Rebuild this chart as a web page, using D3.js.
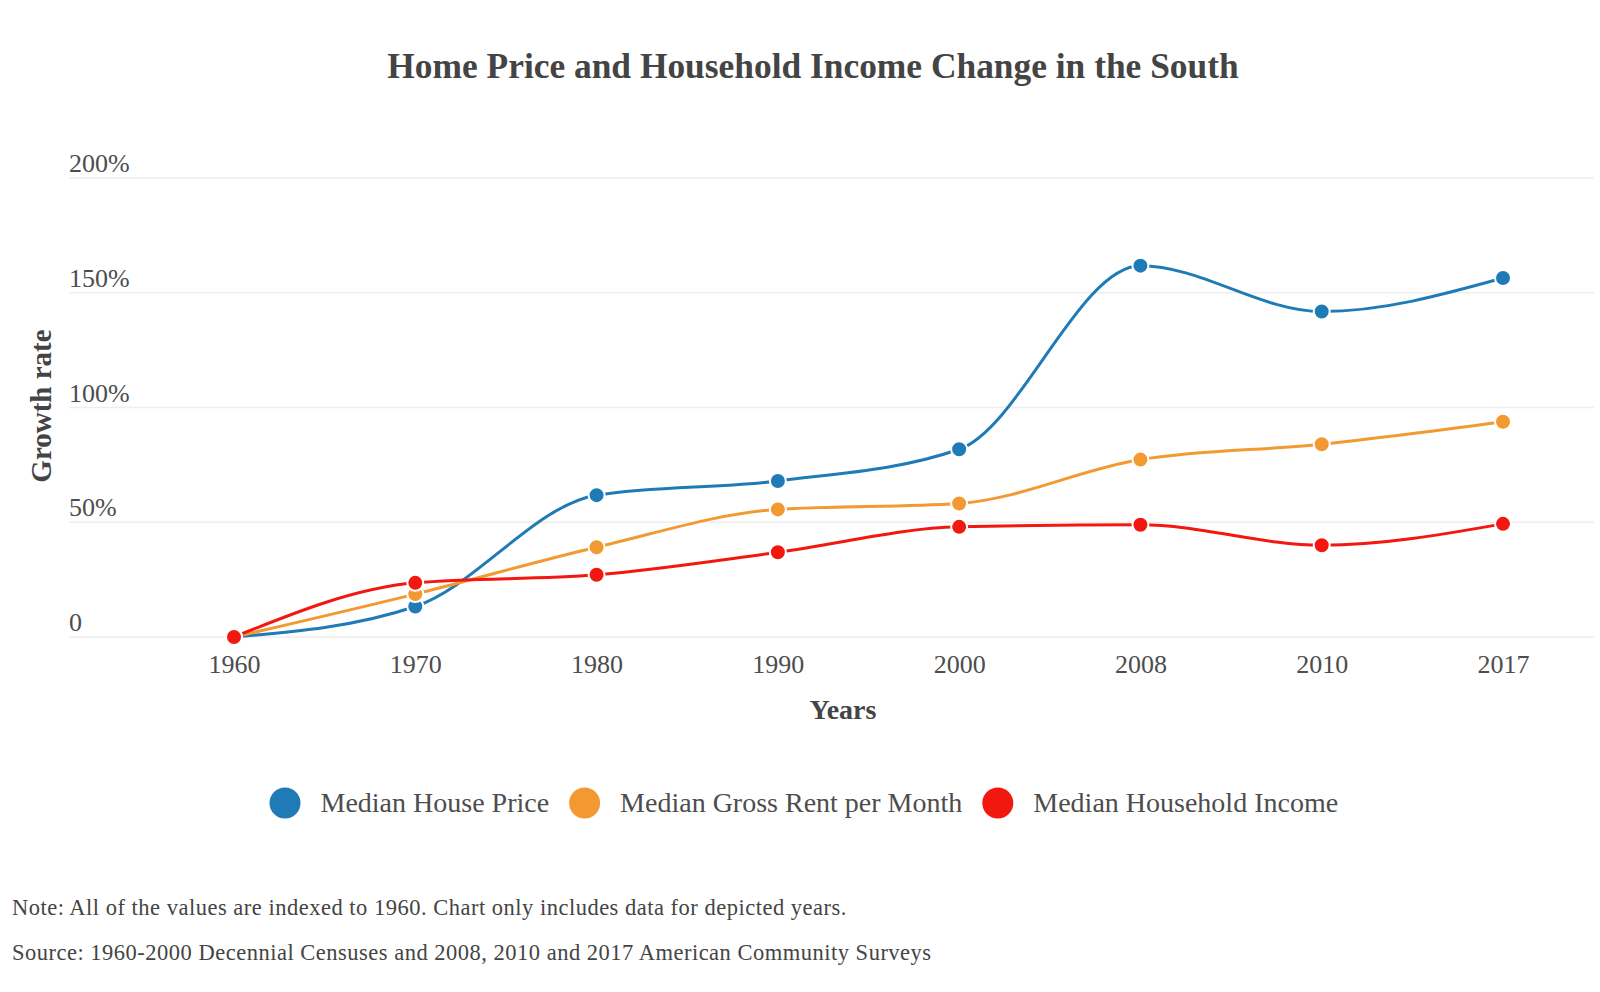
<!DOCTYPE html>
<html>
<head>
<meta charset="utf-8">
<script src="https://cdn.jsdelivr.net/npm/d3@7"></script>
<style>
  body { margin: 0; background: #fff; }
  svg { font-family: "Liberation Serif", serif; }
</style>
</head>
<body>
<svg id="chart" width="1600" height="992"></svg>
<script>
// data
var years = ["1960", "1970", "1980", "1990", "2000", "2008", "2010", "2017"];
var housePrice = [0, 13.3, 61.8, 68, 81.8, 161.8, 141.8, 156.4];
var grossRent = [0, 18.7, 39.1, 55.6, 58.2, 77.3, 84, 93.8];
var householdIncome = [0, 23.6, 27.1, 36.9, 48, 48.9, 40, 49.3];
var yTicks = [0, 50, 100, 150, 200];

var series = [
  {name: "Median House Price", color: "#1f7bb6", values: housePrice},
  {name: "Median Gross Rent per Month", color: "#f29a31", values: grossRent},
  {name: "Median Household Income", color: "#f2180f", values: householdIncome}
];

var svg = d3.select("#chart");

var x = d3.scalePoint().domain(years).range([234, 1503]);
var y = d3.scaleLinear().domain([0, 200]).range([637, 178]);

// title
svg.append("text")
  .attr("x", 813).attr("y", 78)
  .attr("text-anchor", "middle")
  .attr("font-size", 35.4).attr("font-weight", "bold")
  .attr("fill", "#444")
  .text("Home Price and Household Income Change in the South");

// grid + y labels
var grid = svg.append("g");
grid.selectAll("line").data(yTicks).enter().append("line")
  .attr("x1", 69).attr("x2", 1594)
  .attr("y1", function(d){ return y(d); })
  .attr("y2", function(d){ return y(d); })
  .attr("stroke", "#eee").attr("stroke-width", 1.5);
grid.selectAll("text").data(yTicks).enter().append("text")
  .attr("x", 69)
  .attr("y", function(d){ return y(d) - 6; })
  .attr("font-size", 26).attr("fill", "#4d4d4d")
  .text(function(d){ return d === 0 ? "0" : d + "%"; });

// x axis labels
var xAxis = d3.axisBottom(x).tickSize(0).tickPadding(18);
var xg = svg.append("g").attr("transform", "translate(0," + y(0) + ")").call(xAxis);
xg.select(".domain").remove();
xg.selectAll("text")
  .attr("font-family", "Liberation Serif, serif")
  .attr("font-size", 26).attr("fill", "#4d4d4d");

// axis titles
svg.append("text")
  .attr("x", 843).attr("y", 719)
  .attr("text-anchor", "middle")
  .attr("font-size", 28).attr("font-weight", "bold").attr("fill", "#444")
  .text("Years");
svg.append("text")
  .attr("transform", "translate(51,406) rotate(-90)")
  .attr("text-anchor", "middle")
  .attr("font-size", 29).attr("font-weight", "bold").attr("fill", "#444")
  .text("Growth rate");

// lines
var line = d3.line()
  .x(function(d, i){ return x(years[i]); })
  .y(function(d){ return y(d); })
  .curve(d3.curveMonotoneX);

series.forEach(function(s){
  svg.append("path")
    .datum(s.values)
    .attr("d", line)
    .attr("fill", "none")
    .attr("stroke", s.color)
    .attr("stroke-width", 3);
});

// markers
series.forEach(function(s){
  svg.append("g").selectAll("circle").data(s.values).enter().append("circle")
    .attr("cx", function(d, i){ return x(years[i]); })
    .attr("cy", function(d){ return y(d); })
    .attr("r", 8)
    .attr("fill", s.color)
    .attr("stroke", "#fff").attr("stroke-width", 2);
});

// legend
var legend = svg.append("g");
var lx = 285;
series.forEach(function(s){
  legend.append("circle")
    .attr("cx", lx).attr("cy", 803).attr("r", 15.5)
    .attr("fill", s.color);
  var t = legend.append("text")
    .attr("x", lx + 35.5).attr("y", 812)
    .attr("font-size", 28).attr("fill", "#4d4d4d")
    .text(s.name);
  lx += 35.5 + t.node().getComputedTextLength() + 35.5;
});

// notes
svg.append("text")
  .attr("x", 12).attr("y", 915)
  .attr("font-size", 22.5).attr("letter-spacing", 0.5).attr("fill", "#444")
  .text("Note: All of the values are indexed to 1960. Chart only includes data for depicted years.");
svg.append("text")
  .attr("x", 12).attr("y", 960)
  .attr("font-size", 22.5).attr("letter-spacing", 0.5).attr("fill", "#444")
  .text("Source: 1960-2000 Decennial Censuses and 2008, 2010 and 2017 American Community Surveys");
</script>
</body>
</html>
